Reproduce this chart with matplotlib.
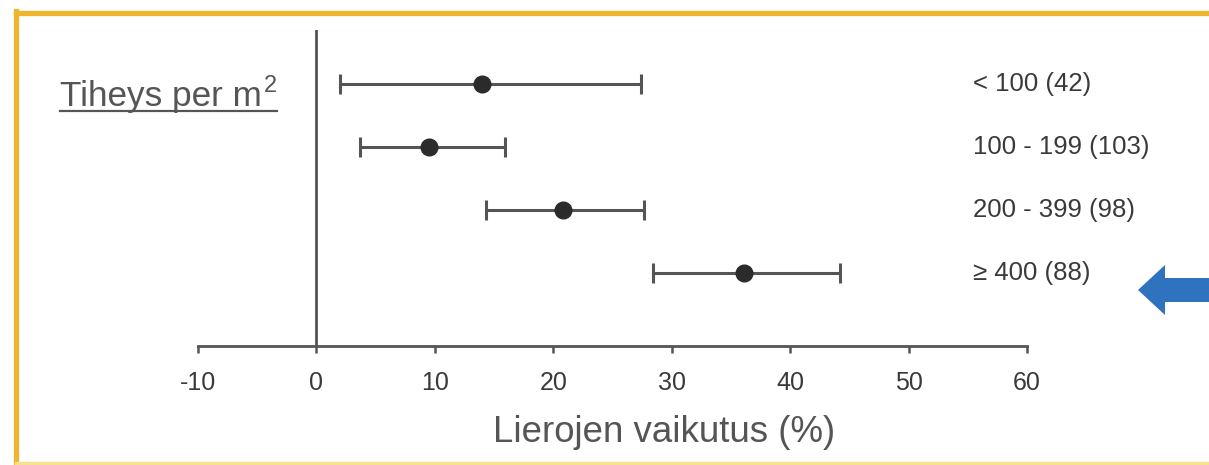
import matplotlib.pyplot as plt
from matplotlib.patches import Polygon
from matplotlib.lines import Line2D

plt.rcParams['font.family'] = ['Liberation Sans', 'DejaVu Sans']

# data
groups = ["< 100 (42)", "100 - 199 (103)", "200 - 399 (98)", "≥ 400 (88)"]
effect = [14.0, 9.5, 20.8, 36.1]
ci_low = [2.0, 3.7, 14.3, 28.4]
ci_high = [27.4, 15.9, 27.7, 44.2]
xticks = [-10, 0, 10, 20, 30, 40, 50, 60]

W, H = 1209, 465
fig = plt.figure(figsize=(W / 100, H / 100), dpi=100)
fig.patch.set_facecolor('white')

GRAY = '#555555'
TXT = '#3a3a3a'

# axes placed in pixels: x -10..60 -> 198..1027, y from 30 (top) to 346 (axis)
ax = fig.add_axes([198 / W, (H - 346) / H, (1027 - 198) / W, (346 - 30) / H])
ax.set_xlim(-10, 60)
ax.set_ylim(-0.15, 4.85)

ypos = [4, 3, 2, 1]
err_lo = [e - l for e, l in zip(effect, ci_low)]
err_hi = [h - e for e, h in zip(effect, ci_high)]
ax.errorbar(effect, ypos, xerr=[err_lo, err_hi], fmt='o', color='#2b2b2b',
            markersize=12, ecolor=GRAY, elinewidth=2.2, capsize=7, capthick=2.2)

ax.axvline(0, color=GRAY, lw=2)

for y, g in zip(ypos, groups):
    ax.text(55.4, y, g, fontsize=18.5, color=TXT, va='center', ha='left')

for s in ['top', 'right', 'left']:
    ax.spines[s].set_visible(False)
ax.spines['bottom'].set_color(GRAY)
ax.spines['bottom'].set_linewidth(2)
ax.set_yticks([])
ax.set_xticks(xticks)
ax.set_xticklabels([str(t) for t in xticks])
ax.tick_params(axis='x', direction='out', length=5, width=1.8, color=GRAY,
               labelsize=18, labelcolor=TXT, pad=13)
ax.patch.set_alpha(0)

fig.text(664 / W, 1 - 432 / H, "Lierojen vaikutus (%)", fontsize=26.4,
         color=GRAY, ha='center', va='center')

title = fig.text(60 / W, 1 - 106 / H, "Tiheys per m", fontsize=25.3,
                 color=GRAY, ha='left', va='baseline')
fig.canvas.draw()
bb = title.get_window_extent().transformed(fig.transFigure.inverted())
sup = fig.text(bb.x1 + 2 / W, 1 - 92 / H, "2", fontsize=17,
               color=GRAY, ha='left', va='baseline')
fig.canvas.draw()
sb = sup.get_window_extent().transformed(fig.transFigure.inverted())
fig.add_artist(Line2D([bb.x0, sb.x1], [1 - 111 / H, 1 - 111 / H],
                      transform=fig.transFigure, color=GRAY, lw=1.6))

# yellow frame (top and left strong, bottom faint)
frame = '#EDB62E'
fig.add_artist(Line2D([16 / W, 1.0], [1 - 13 / H, 1 - 13 / H],
                      transform=fig.transFigure, color=frame, lw=3.8))
fig.add_artist(Line2D([16 / W, 16 / W], [1 - 11 / H, 0], transform=fig.transFigure,
                      color=frame, lw=3.8))
fig.add_artist(Line2D([16 / W, 1.0], [1 - 463 / H, 1 - 463 / H],
                      transform=fig.transFigure, color='#F8E08E', lw=2.5))

# blue arrow
pts = [(1138, 290), (1165, 265), (1165, 278), (1215, 278), (1215, 302),
       (1165, 302), (1165, 315)]
fig.add_artist(Polygon([(x / W, 1 - y / H) for x, y in pts], closed=True,
                       transform=fig.transFigure, facecolor='#2F72BE', edgecolor='none'))

fig.savefig('out.png', dpi=100, facecolor='white')
